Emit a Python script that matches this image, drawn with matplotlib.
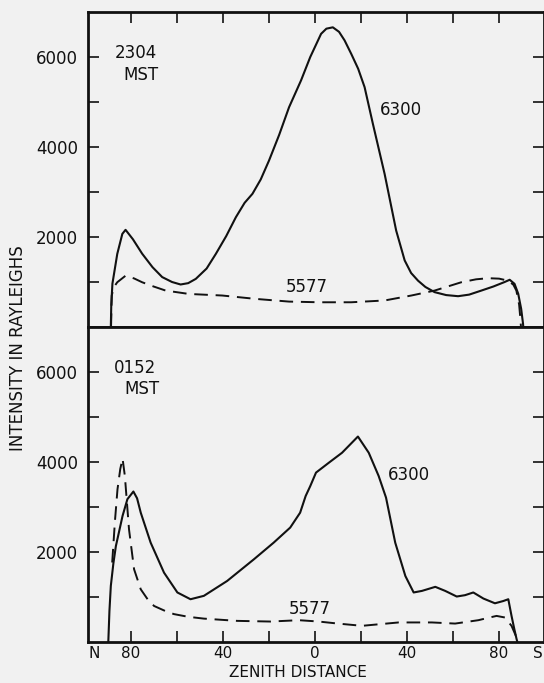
import numpy as np
import matplotlib
matplotlib.use("Agg")
import matplotlib.pyplot as plt

# zenith distance: north side negative, south side positive
# --- 2304 MST ---
top_6300_z = [-88.6, -88.4, -87.9, -85.8, -83.6, -82.2, -79.0, -75.0, -70.5, -66.3, -62.0, -58.3,
              -55.0, -51.7, -47.0, -43.0, -38.5, -34.3, -30.5, -27.1, -23.5, -19.9, -15.5, -11.2,
              -6.0, -2.0, 2.7, 5.0, 7.8, 10.5, 12.9, 15.8, 18.8, 21.6, 25.2, 30.3, 35.3, 39.0, 41.8, 44.8,
              48.0, 52.0, 57.0, 62.2, 67.0, 72.3, 77.5, 82.4, 84.6, 86.7, 88.3, 89.6, 90.4, 90.5]
top_6300_v = [0, 500, 965, 1625, 2070, 2160, 1950, 1630, 1330, 1110, 1000, 945,
              975, 1070, 1300, 1625, 2020, 2440, 2760, 2960, 3280, 3700, 4270, 4885,
              5480, 6000, 6515, 6630, 6660, 6560, 6370, 6070, 5740, 5330, 4515, 3400, 2145, 1480, 1200, 1030,
              890, 775, 710, 685, 720, 810, 900, 1000, 1050, 960, 740, 400, 70, 0]

top_5577_z = [-88.5, -88.2, -87.3, -85.8, -82.2, -78.5, -75.0, -70.0, -64.8, -54.7, -40.2, -25.7,
              -11.2, 1.9, 15.8, 30.3, 41.9, 52.0, 63.6, 70.0, 75.2, 80.0, 83.9, 86.2, 87.5,
              88.7, 89.3, 89.5]
top_5577_v = [0, 700, 885, 995, 1140, 1080, 995, 900, 810, 735, 700, 625,
              565, 550, 550, 590, 700, 810, 995, 1060, 1085, 1075, 1030, 940, 810,
              500, 150, 0]

# --- 0152 MST ---
bot_6300_z = [-89.7, -89.2, -88.6, -87.5, -86.4, -83.5, -81.4, -78.8, -77.2, -75.6, -71.3, -65.5,
              -59.7, -54.0, -48.2, -38.1, -26.5, -17.9, -10.7, -6.4, -4.0, -2.0, 0.5, 6.1,
              11.8, 18.7, 23.4, 27.7, 30.9, 34.9, 39.3, 42.9, 46.5, 52.3, 56.6, 61.6, 65.2,
              68.8, 73.2, 78.2, 81.8, 84.0, 85.4, 86.6, 87.6, 88.0]
bot_6300_v = [0, 700, 1255, 1750, 2140, 2810, 3180, 3350, 3200, 2880, 2215, 1550,
              1110, 960, 1035, 1365, 1845, 2215, 2550, 2880, 3250, 3470, 3770, 3990,
              4210, 4570, 4210, 3695, 3215, 2215, 1475, 1110, 1145, 1235, 1145, 1020, 1050,
              1110, 975, 870, 920, 960, 590, 300, 75, 0]

bot_5577_z = [-88.0, -86.8, -85.7, -84.5, -83.5, -82.5, -80.7, -78.5, -75.6, -72.5, -69.8, -65.0,
              -61.2, -55.0, -48.2, -33.8, -19.3, -6.9, 1.7, 10.0, 20.5, 36.4, 50.8, 60.9,
              71.0, 75.5, 78.9, 82.5, 85.4, 87.6, 88.3]
bot_5577_v = [1775, 2700, 3400, 3850, 4080, 3695, 2510, 1625, 1180, 950, 810, 700,
              630, 570, 530, 480, 465, 495, 465, 420, 370, 445, 445, 420,
              495, 550, 590, 555, 370, 110, 0]

panel_times = ["2304", "0152"]
y_ticks = [1000, 2000, 3000, 4000, 5000, 6000]
y_labels = ["", "2000", "", "4000", "", "6000"]
x_ticks = [-80, -60, -40, -20, 0, 20, 40, 60, 80]
x_labels = ["80", "", "40", "", "0", "", "40", "", "80"]

bg = "#f1f1f1"
ink = "#111111"
plt.rcParams["font.family"] = "DejaVu Sans"

fig = plt.figure(figsize=(5.44, 6.83), dpi=100, facecolor=bg)
ax1 = fig.add_axes([0.1618, 0.5212, 0.8382, 0.4612], facecolor=bg)
ax2 = fig.add_axes([0.1618, 0.0593, 0.8382, 0.4619], facecolor=bg)

dash = (0, (7, 4))
ax1.plot(top_6300_z, top_6300_v, color=ink, lw=1.5, solid_joinstyle="round")
ax1.plot(top_5577_z, top_5577_v, color=ink, lw=1.4, ls=dash)
ax2.plot(bot_6300_z, bot_6300_v, color=ink, lw=1.5, solid_joinstyle="round")
ax2.plot(bot_5577_z, bot_5577_v, color=ink, lw=1.4, ls=dash)

for ax in (ax1, ax2):
    ax.set_xlim(-98.5, 99.5)
    ax.set_ylim(0, 7000)
    for s in ax.spines.values():
        s.set_linewidth(2)
        s.set_color(ink)
    ax.set_yticks(y_ticks)
    ax.set_yticklabels(y_labels)
    ax.tick_params(axis="y", which="both", direction="in", length=8, width=1.2,
                   left=True, right=True, labelsize=12, pad=7, colors=ink)
    ax.set_xticks(x_ticks)

ax1.tick_params(axis="x", direction="in", length=8, width=1.2, top=True, bottom=False,
                labelbottom=False, labeltop=False, colors=ink)
ax2.set_xticklabels(x_labels)
ax2.tick_params(axis="x", direction="in", length=8, width=1.2, top=False, bottom=True,
                labelsize=11, pad=2.5, colors=ink)
ax2.text(-96, -0.012, "N", transform=ax2.get_xaxis_transform(), ha="center", va="top",
         fontsize=11, color=ink)
ax2.text(96.8, -0.012, "S", transform=ax2.get_xaxis_transform(), ha="center", va="top",
         fontsize=11, color=ink, clip_on=False)

# panel annotations
ax1.text(-77.7, 6090, panel_times[0], ha="center", va="center", fontsize=12, color=ink)
ax1.text(-75.5, 5590, "MST", ha="center", va="center", fontsize=12, color=ink)
ax1.text(37.5, 4830, "6300", ha="center", va="center", fontsize=12, color=ink)
ax1.text(-3.6, 880, "5577", ha="center", va="center", fontsize=12, color=ink)

ax2.text(-78.1, 6100, panel_times[1], ha="center", va="center", fontsize=12, color=ink)
ax2.text(-75.3, 5620, "MST", ha="center", va="center", fontsize=12, color=ink)
ax2.text(40.9, 3710, "6300", ha="center", va="center", fontsize=12, color=ink)
ax2.text(-2.2, 740, "5577", ha="center", va="center", fontsize=12, color=ink)

fig.text(18 / 544, 1 - 348 / 683, "INTENSITY IN RAYLEIGHS", rotation=90, ha="center",
         va="center", fontsize=12, color=ink)
fig.text(298 / 544, 1 - 665 / 683, "ZENITH DISTANCE", ha="center", va="top",
         fontsize=11, color=ink)

fig.savefig("out.png", dpi=100, facecolor=bg)
